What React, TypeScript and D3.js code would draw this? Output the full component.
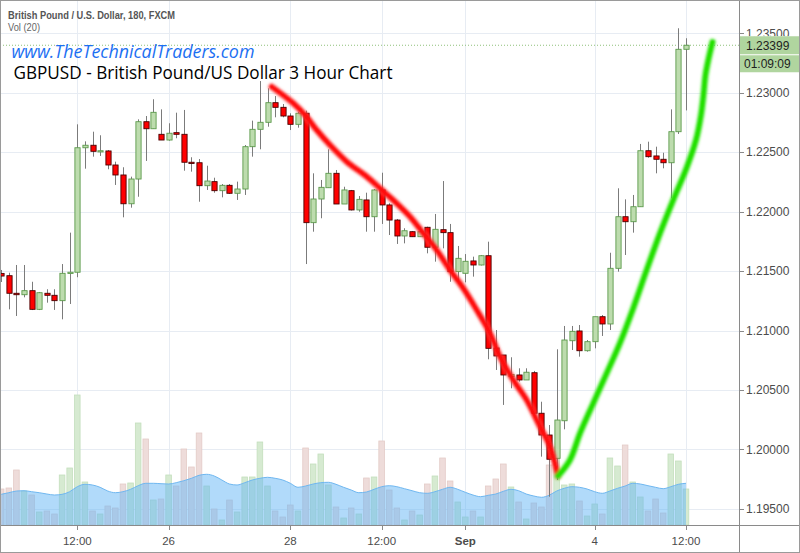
import React from 'react';
import * as d3 from 'd3';

// ---- Data (3-hour GBPUSD candles, bar index 0..90) ----
const opens = [
  1.21480, 1.21461, 1.21313, 1.21301, 1.21335, 1.21178, 1.21313, 1.21296, 1.21251, 1.21481,
  1.21490, 1.22537, 1.22558, 1.22504, 1.22510, 1.22392, 1.22308, 1.22066, 1.22274, 1.22756,
  1.22697, 1.22650, 1.22602, 1.22664, 1.22650, 1.22415, 1.22411, 1.22218, 1.22252, 1.22176,
  1.22221, 1.22154, 1.22190, 1.22546, 1.22692, 1.22751, 1.22916, 1.22877, 1.22804, 1.22734,
  1.22827, 1.21907, 1.22106, 1.22201, 1.22322, 1.22064, 1.22176, 1.22014, 1.22098, 1.21957,
  1.22182, 1.22056, 1.21929, 1.21795, 1.21831, 1.21789, 1.21868, 1.21700, 1.21848, 1.21823,
  1.21495, 1.21481, 1.21585, 1.21551, 1.21629, 1.20853, 1.20794, 1.20612, 1.20626, 1.20584,
  1.20645, 1.20304, 1.20121, 1.19925, 1.20241, 1.20914, 1.20996, 1.20830, 1.20906, 1.21116,
  1.21055, 1.21523, 1.21957, 1.21915, 1.22041, 1.22512, 1.22468, 1.22440, 1.22411, 1.22672,
  1.23365,
];
const highs = [
  1.21509, 1.21486, 1.21551, 1.21551, 1.21410, 1.21324, 1.21347, 1.21347, 1.21559, 1.21823,
  1.22734, 1.22591, 1.22672, 1.22642, 1.22518, 1.22420, 1.22373, 1.22294, 1.22776, 1.22804,
  1.22945, 1.22860, 1.22743, 1.22832, 1.22855, 1.22457, 1.22442, 1.22386, 1.22285, 1.22232,
  1.22232, 1.22252, 1.22560, 1.22765, 1.23098, 1.23037, 1.22972, 1.22905, 1.22827, 1.22840,
  1.22849, 1.22322, 1.22266, 1.22524, 1.22350, 1.22209, 1.22182, 1.22131, 1.22159, 1.22190,
  1.22327, 1.22070, 1.21938, 1.21860, 1.21837, 1.21873, 1.21873, 1.21980, 1.22257, 1.21896,
  1.21711, 1.21643, 1.21621, 1.21635, 1.21747, 1.21004, 1.20794, 1.20775, 1.20682, 1.20682,
  1.20660, 1.20401, 1.20205, 1.20842, 1.21038, 1.21038, 1.21046, 1.20920, 1.21116, 1.21130,
  1.21654, 1.22196, 1.22103, 1.22140, 1.22569, 1.22588, 1.22546, 1.22495, 1.22860, 1.23542,
  1.23458,
];
const lows = [
  1.21408, 1.21178, 1.21122, 1.21279, 1.21172, 1.21172, 1.21234, 1.21173, 1.21094, 1.21223,
  1.21448, 1.22361, 1.22462, 1.22468, 1.22356, 1.22224, 1.21952, 1.22033, 1.22125, 1.22426,
  1.22697, 1.22602, 1.22596, 1.22617, 1.22344, 1.22336, 1.22083, 1.22182, 1.22159, 1.22120,
  1.22148, 1.22098, 1.22140, 1.22462, 1.22524, 1.22714, 1.22793, 1.22793, 1.22686, 1.22706,
  1.21559, 1.21831, 1.21944, 1.22201, 1.22064, 1.22064, 1.22009, 1.21999, 1.21831, 1.21831,
  1.21896, 1.21803, 1.21728, 1.21733, 1.21786, 1.21786, 1.21649, 1.21579, 1.21691, 1.21410,
  1.21410, 1.21405, 1.21453, 1.21547, 1.20758, 1.20668, 1.20374, 1.20514, 1.20570, 1.20584,
  1.20304, 1.19939, 1.19602, 1.19743, 1.20169, 1.20836, 1.20780, 1.20822, 1.20850, 1.20954,
  1.21004, 1.21495, 1.21635, 1.21823, 1.22041, 1.22453, 1.22322, 1.22364, 1.22112, 1.22653,
  1.22851,
];
const closes = [
  1.21458, 1.21313, 1.21301, 1.21335, 1.21178, 1.21318, 1.21296, 1.21251, 1.21481, 1.21490,
  1.22537, 1.22558, 1.22507, 1.22512, 1.22392, 1.22308, 1.22066, 1.22274, 1.22756, 1.22697,
  1.22835, 1.22602, 1.22659, 1.22650, 1.22415, 1.22411, 1.22218, 1.22257, 1.22176, 1.22221,
  1.22154, 1.22190, 1.22546, 1.22692, 1.22751, 1.22916, 1.22877, 1.22804, 1.22734, 1.22827,
  1.21907, 1.22106, 1.22204, 1.22322, 1.22064, 1.22182, 1.22014, 1.22103, 1.21957, 1.22182,
  1.22056, 1.21929, 1.21795, 1.21839, 1.21789, 1.21831, 1.21700, 1.21851, 1.21823, 1.21495,
  1.21607, 1.21582, 1.21551, 1.21629, 1.20850, 1.20786, 1.20626, 1.20630, 1.20584, 1.20649,
  1.20304, 1.20121, 1.19917, 1.20247, 1.20920, 1.20993, 1.20830, 1.20906, 1.21116, 1.21055,
  1.21523, 1.21957, 1.21915, 1.22041, 1.22512, 1.22462, 1.22440, 1.22411, 1.22672, 1.23365,
  1.23399,
];
const volumes = [
  3600, 3700, 5500, 3400, 3000, 1300, 1400, 1100, 5000, 5700,
  13000, 4300, 1400, 1100, 1900, 1700, 4100, 4200, 10200, 8600,
  2500, 2600, 5000, 3900, 7600, 5800, 9200, 3900, 1600, 500,
  2500, 1300, 4800, 4800, 8300, 3900, 1400, 800, 2000, 1400,
  7700, 6100, 7100, 4000, 1800, 700, 1700, 1100, 4700, 4800,
  8400, 3500, 1700, 500, 1400, 1000, 4100, 4900, 6700, 4400,
  2300, 800, 1400, 800, 3900, 4600, 6100, 3800, 2300, 600,
  2200, 1800, 6000, 7800, 4000, 4100, 2400, 900, 2100, 1100,
  6700, 5900, 8000, 4300, 2800, 1400, 2600, 1200, 7100, 6400,
  3600,
];
const volumeMA = [
  3070, 3230, 3400, 3430, 3330, 3230, 3100, 3000, 3070, 3330,
  3830, 4070, 4000, 3770, 3400, 3230, 3330, 3570, 3930, 4170,
  4170, 4130, 4100, 4230, 4430, 4670, 4970, 5070, 4900, 4500,
  4100, 4000, 4230, 4500, 4670, 4770, 4670, 4500, 4170, 3770,
  3900, 4100, 4230, 4270, 4070, 3770, 3500, 3230, 3300, 3570,
  3830, 3930, 3830, 3630, 3430, 3230, 3170, 3330, 3570, 3770,
  3570, 3270, 3000, 2830, 2970, 3100, 3370, 3570, 3430, 3100,
  2900, 2770, 2970, 3400, 3670, 3830, 3770, 3600, 3330, 3170,
  3400, 3670, 3900, 4170, 4100, 3930, 3770, 3630, 3830, 4070,
  4170,
];
const priceTicks = [1.195, 1.2, 1.205, 1.21, 1.215, 1.22, 1.225, 1.23, 1.235];
const timeTickIndex = [10, 22, 38, 50, 61, 78, 90];
const timeTickLabels = ['12:00', '26', '28', '12:00', 'Sep', '4', '12:00'];
const boldTimeLabels = ['Sep'];

// hand-drawn annotation strokes (bar index, price)
const redTrendIndex = [35.55, 38.39, 39.93, 41.46, 43.21, 45.41, 48.04, 49.78, 51.98, 53.73, 55.47, 57.23, 58.98, 60.73, 62.49, 64.24, 65.55, 67.3, 69.06, 70.81, 72.12, 73.18];
const redTrendPrice = [1.2305, 1.22911, 1.22812, 1.22686, 1.2256, 1.2242, 1.22294, 1.22196, 1.2207, 1.21957, 1.21818, 1.21677, 1.21509, 1.21355, 1.21173, 1.20977, 1.2078, 1.20584, 1.20416, 1.20191, 1.20023, 1.19776];
const greenTrendIndex = [73.18, 74.75, 76.07, 77.81, 79.57, 81.32, 83.07, 84.83, 86.58, 88.32, 90.07, 91.31, 91.97, 92.3, 92.56, 92.93, 93.48];
const greenTrendPrice = [1.19776, 1.19911, 1.20136, 1.20388, 1.2064, 1.20895, 1.21189, 1.21509, 1.21818, 1.22098, 1.22367, 1.22602, 1.22812, 1.22981, 1.23149, 1.23275, 1.23426];

const headerTitle = 'British Pound / U.S. Dollar, 180, FXCM';
const headerVol = 'Vol (20)';
const siteText = 'www.TheTechnicalTraders.com';
const chartTitle = 'GBPUSD - British Pound/US Dollar 3 Hour Chart';
const countdown = '01:09:09';

const W = 800;
const H = 553;
const PLOT_R = 739;
const PLOT_B = 525;

export default function App() {
  const n = closes.length;
  const x = d3.scaleLinear().domain([0, 90]).range([1.2, 686]);
  const y = d3.scaleLinear().domain([1.195, 1.235]).range([508.85, 33.25]);
  const yv = d3.scaleLinear().domain([0, 13000]).range([PLOT_B, 395]);
  const idx = d3.range(n);

  const maArea = d3.area<number>()
    .x((_, i) => x(i))
    .y0(PLOT_B)
    .y1((d) => yv(d))
    .curve(d3.curveMonotoneX)(volumeMA) as string;
  const maLine = d3.line<number>()
    .x((_, i) => x(i))
    .y((d) => yv(d))
    .curve(d3.curveMonotoneX)(volumeMA) as string;

  const redPath = d3.line<number>()
    .x((d) => x(d))
    .y((_, i) => y(redTrendPrice[i]))
    .curve(d3.curveCatmullRom.alpha(0.5))(redTrendIndex) as string;
  const greenPath = d3.line<number>()
    .x((d) => x(d))
    .y((_, i) => y(greenTrendPrice[i]))
    .curve(d3.curveCatmullRom.alpha(0.5))(greenTrendIndex) as string;

  const lastClose = closes[n - 1];
  const fmt = d3.format('.5f');
  const axisFont = '"Liberation Sans", Arial, sans-serif';
  const tagY = y(lastClose);

  return (
    <svg
      width={W}
      height={H}
      viewBox={`0 0 ${W} ${H}`}
      style={{ position: 'absolute', left: 0, top: 0, background: '#ffffff' }}
    >
      <defs>
        <clipPath id="plotClip">
          <rect x={1} y={1} width={PLOT_R - 1} height={PLOT_B - 1} />
        </clipPath>
        <clipPath id="aboveTag">
          <rect x={PLOT_R + 1} y={0} width={W - PLOT_R} height={tagY - 9} />
        </clipPath>
        <filter id="soft" x="-10%" y="-10%" width="120%" height="120%">
          <feGaussianBlur stdDeviation="0.8" />
        </filter>
      </defs>
      <rect x={0} y={0} width={W} height={H} fill="#ffffff" />

      <g clipPath="url(#plotClip)">
        {/* grid */}
        {priceTicks.map((p) => (
          <line key={'hg' + p} x1={0} x2={PLOT_R} y1={Math.round(y(p)) + 0.5} y2={Math.round(y(p)) + 0.5} stroke="#e7ecf3" strokeWidth={1} />
        ))}
        {timeTickIndex.map((t) => (
          <line key={'vg' + t} x1={Math.round(x(t)) + 0.5} x2={Math.round(x(t)) + 0.5} y1={0} y2={PLOT_B} stroke="#e7ecf3" strokeWidth={1} />
        ))}

        {/* volume bars */}
        {idx.map((i) => {
          const up = closes[i] >= opens[i];
          const top = yv(volumes[i]);
          return (
            <rect
              key={'v' + i}
              x={x(i) - 2.8}
              y={top}
              width={5.6}
              height={PLOT_B - top}
              fill={up ? '#d6ead1' : '#eedcda'}
              stroke={up ? '#c4dfbd' : '#e3cbc7'}
              strokeWidth={0.8}
            />
          );
        })}
        {/* volume MA */}
        <path d={maArea} fill="rgba(100,181,246,0.5)" stroke="none" />
        <path d={maLine} fill="none" stroke="#6fb7f0" strokeWidth={1} />

        {/* current price line */}
        <line x1={0} x2={PLOT_R} y1={tagY} y2={tagY} stroke="#8fc07a" strokeWidth={1} strokeDasharray="1,2" />

        {/* candles */}
        {idx.map((i) => {
          const up = closes[i] >= opens[i];
          const cx = Math.round(x(i)) + 0.5;
          const top = y(Math.max(opens[i], closes[i]));
          const bot = y(Math.min(opens[i], closes[i]));
          const h = Math.max(bot - top, 1.2);
          return (
            <g key={'c' + i}>
              <line x1={cx} x2={cx} y1={y(highs[i])} y2={y(lows[i])} stroke="#7b7b7b" strokeWidth={1} />
              <rect
                x={cx - 2.6}
                y={top}
                width={5.2}
                height={h}
                fill={up ? '#bddcae' : '#ff0000'}
                stroke={up ? '#5c9a4c' : '#4a0000'}
                strokeWidth={0.9}
              />
            </g>
          );
        })}

        {/* hand-drawn trend strokes */}
        <g filter="url(#soft)">
          <path d={redPath} fill="none" stroke="#ff5a5a" strokeOpacity={0.45} strokeWidth={8} strokeLinecap="round" strokeLinejoin="round" />
          <path d={redPath} fill="none" stroke="#ff0a0a" strokeWidth={5.2} strokeLinecap="round" strokeLinejoin="round" />
          <path d={greenPath} fill="none" stroke="#5cf03c" strokeOpacity={0.45} strokeWidth={8} strokeLinecap="round" strokeLinejoin="round" />
          <path d={greenPath} fill="none" stroke="#22e000" strokeWidth={5.2} strokeLinecap="round" strokeLinejoin="round" />
        </g>
      </g>

      {/* header */}
      <text x={8} y={18.5} fontFamily={axisFont} fontSize={11} fontWeight={700} fill="#555" textLength={167} lengthAdjust="spacingAndGlyphs">{headerTitle}</text>
      <text x={8} y={31} fontFamily={axisFont} fontSize={11} fill="#666" textLength={32} lengthAdjust="spacingAndGlyphs">{headerVol}</text>

      {/* overlay texts */}
      <text x={11.5} y={57.5} fontFamily='"Open Sans", "Liberation Sans", sans-serif' fontStyle="italic" fontSize={17.5} fill="#1c6ff2" textLength={243} lengthAdjust="spacingAndGlyphs">{siteText}</text>
      <text x={13.5} y={78.5} fontFamily='"Open Sans", "Liberation Sans", sans-serif' fontSize={18} fill="#000" textLength={379} lengthAdjust="spacingAndGlyphs">{chartTitle}</text>

      {/* axes frame */}
      <line x1={PLOT_R + 0.5} x2={PLOT_R + 0.5} y1={0} y2={H} stroke="#8a8a8a" strokeWidth={1} />
      <line x1={0} x2={W} y1={PLOT_B + 0.5} y2={PLOT_B + 0.5} stroke="#8a8a8a" strokeWidth={1} />

      {/* right price axis */}
      {priceTicks.map((p) => (
        <g key={'pt' + p} clipPath={p === 1.235 ? 'url(#aboveTag)' : undefined}>
          <line x1={PLOT_R + 1} x2={PLOT_R + 5} y1={Math.round(y(p)) + 0.5} y2={Math.round(y(p)) + 0.5} stroke="#8a8a8a" />
          <text x={746} y={y(p) + 4.3} fontFamily={axisFont} fontSize={12} fill="#4c4c4c">{fmt(p)}</text>
        </g>
      ))}
      {/* last price tag */}
      <rect x={PLOT_R + 1} y={tagY - 9} width={W - PLOT_R - 1} height={18} fill="#b0d59f" />
      <text x={746} y={tagY + 5} fontFamily={axisFont} fontSize={12} fill="#1e1e1e">{fmt(lastClose)}</text>
      <rect x={PLOT_R + 1} y={tagY + 10} width={W - PLOT_R - 1} height={17} fill="#b0d59f" />
      <text x={744} y={tagY + 23} fontFamily={axisFont} fontSize={12} fill="#1e1e1e">{countdown}</text>

      {/* bottom time axis */}
      {timeTickIndex.map((t, k) => (
        <g key={'tt' + t}>
          <line x1={Math.round(x(t)) + 0.5} x2={Math.round(x(t)) + 0.5} y1={PLOT_B + 1} y2={PLOT_B + 5} stroke="#8a8a8a" />
          <text
            x={x(t)}
            y={545}
            textAnchor="middle"
            fontFamily={axisFont}
            fontSize={11.5}
            fontWeight={boldTimeLabels.includes(timeTickLabels[k]) ? 700 : 400}
            fill="#4c4c4c"
          >
            {timeTickLabels[k]}
          </text>
        </g>
      ))}

      {/* outer border */}
      <rect x={0.5} y={0.5} width={W - 1} height={H - 1} fill="none" stroke="#9a9a9a" strokeWidth={1} />
    </svg>
  );
}
